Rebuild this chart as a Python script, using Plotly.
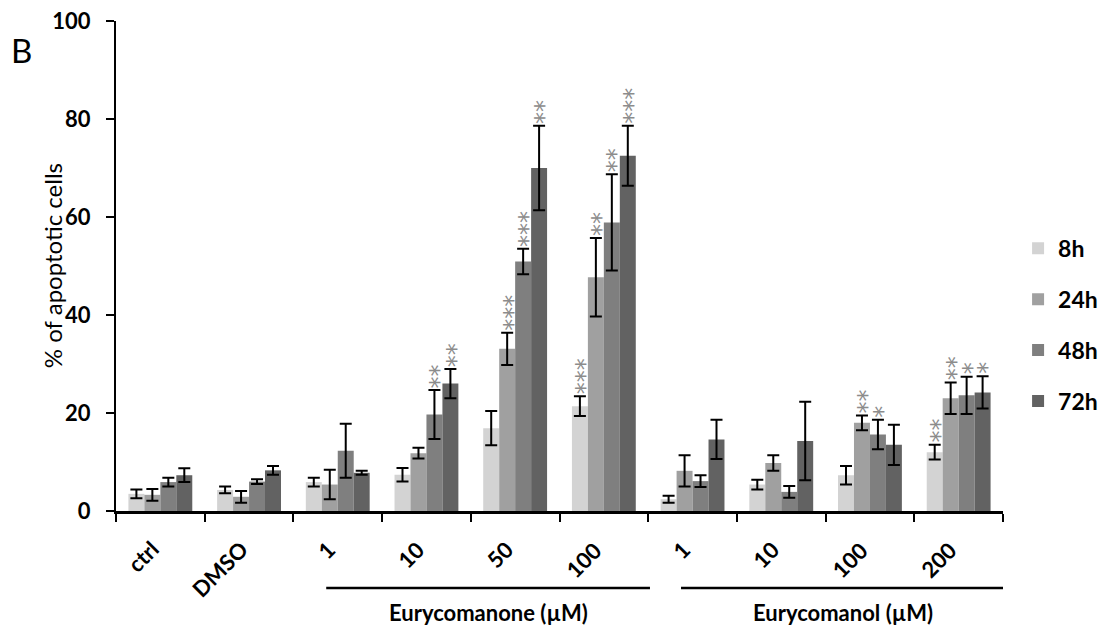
import plotly.graph_objects as go

categories = ["ctrl", "DMSO", "1", "10", "50", "100", "1", "10", "100", "200"]
series_names = ["8h", "24h", "48h", "72h"]

mean_8h = [3.5, 4.3, 5.9, 7.4, 16.9, 21.4, 2.4, 5.4, 7.3, 12.0]
err_8h = [0.9, 0.7, 0.9, 1.4, 3.5, 2.0, 0.7, 1.0, 1.9, 1.5]
mean_24h = [3.3, 2.9, 5.4, 11.8, 33.1, 47.7, 8.2, 9.8, 18.0, 23.0]
err_24h = [1.2, 1.2, 3.0, 1.1, 3.3, 8.0, 3.2, 1.6, 1.5, 3.2]
mean_48h = [5.9, 6.0, 12.3, 19.7, 50.9, 58.9, 6.1, 3.9, 15.6, 23.6]
err_48h = [0.9, 0.5, 5.5, 5.0, 2.6, 9.8, 1.2, 1.2, 3.0, 3.8]
mean_72h = [7.3, 8.3, 7.8, 26.0, 70.0, 72.5, 14.6, 14.3, 13.5, 24.2]
err_72h = [1.4, 0.9, 0.4, 3.0, 8.6, 6.1, 4.0, 8.0, 4.1, 3.3]

stars_8h = [0, 0, 0, 0, 0, 3, 0, 0, 0, 2]
stars_24h = [0, 0, 0, 0, 3, 2, 0, 0, 2, 2]
stars_48h = [0, 0, 0, 2, 3, 2, 0, 0, 1, 1]
stars_72h = [0, 0, 0, 2, 2, 3, 0, 0, 0, 1]

group_labels = ["Eurycomanone (µM)", "Eurycomanol (µM)"]
group_members = [[2, 3, 4, 5], [6, 7, 8, 9]]

colors = ["#d3d3d3", "#a0a0a0", "#7f7f7f", "#626262"]
means = [mean_8h, mean_24h, mean_48h, mean_72h]
errs = [err_8h, err_24h, err_48h, err_72h]
stars = [stars_8h, stars_24h, stars_48h, stars_72h]

BAR_W = 0.18
FONT = "Lato"

fig = go.Figure()
annotations = []
for k, name in enumerate(series_names):
    off = (k - 1.5) * BAR_W
    xs = [i + off for i in range(len(categories))]
    fig.add_trace(go.Bar(
        x=xs, y=means[k], width=BAR_W, name=name,
        marker=dict(color=colors[k], line=dict(width=0)),
        error_y=dict(type="data", array=errs[k], color="black", thickness=2, width=6),
        legendgroup=name,
    ))
    for i, n in enumerate(stars[k]):
        if n:
            # a vertical stack of asterisks, written as rotated text
            annotations.append(dict(
                x=xs[i], y=means[k][i] + errs[k][i], xref="x", yref="y",
                text="*" * n, textangle=-90, showarrow=False,
                yanchor="bottom", xanchor="center", yshift=1, xshift=5,
                borderpad=0,
                font=dict(family="DejaVu Sans", size=24, color="#8c8c8c"),
            ))

# rotated category labels
for i, lab in enumerate(categories):
    annotations.append(dict(
        x=i + 0.07, y=0, xref="x", yref="y", text=lab, showarrow=False,
        textangle=-45, xanchor="right", yanchor="top", yshift=-22,
        font=dict(family=FONT, size=22, color="black", weight="bold"),
    ))

# group underline labels
shapes = []
for label, members in zip(group_labels, group_members):
    x0 = members[0] - 0.13
    x1 = members[-1] + 0.52
    shapes.append(dict(type="line", xref="x", yref="paper", x0=x0, x1=x1,
                       y0=-0.157, y1=-0.157, line=dict(color="black", width=2.5)))
    annotations.append(dict(x=(x0 + x1) / 2, y=-0.238, xref="x", yref="paper",
                            text=label, showarrow=False, yanchor="bottom",
                            font=dict(family=FONT, size=22, color="black", weight="bold")))

annotations.append(dict(x=-0.072, y=0.5, xref="paper", yref="paper",
                        text="% of apoptotic cells", textangle=-90, showarrow=False,
                        xanchor="center", yanchor="middle",
                        font=dict(family=FONT, size=24, color="black")))
annotations.append(dict(x=-0.107, y=0.941, xref="paper", yref="paper",
                        text="B", showarrow=False, xanchor="center", yanchor="middle",
                        font=dict(family=FONT, size=33, color="black")))

fig.update_layout(
    width=1103, height=628,
    margin=dict(l=116, r=100, t=21, b=117, autoexpand=False),
    paper_bgcolor="white", plot_bgcolor="white",
    barmode="overlay",
    showlegend=True,
    legend=dict(x=1.017, y=0.58, xanchor="left", yanchor="top",
                font=dict(family=FONT, size=23, color="black", weight="bold"),
                tracegroupgap=18, bgcolor="rgba(0,0,0,0)"),
    shapes=shapes,
    annotations=annotations,
)
fig.update_xaxes(
    range=[-0.5, len(categories) - 0.5],
    tickmode="array", tickvals=[i - 0.5 for i in range(len(categories) + 1)],
    showticklabels=False,
    ticks="outside", ticklen=8, tickwidth=2, tickcolor="black",
    showline=True, linecolor="black", linewidth=2.5, showgrid=False, zeroline=False,
)
fig.update_yaxes(
    range=[0, 100], tickmode="array", tickvals=[0, 20, 40, 60, 80, 100],
    ticks="outside", ticklen=8, tickwidth=2, tickcolor="black", ticklabelstandoff=11,
    tickfont=dict(family=FONT, size=22, color="black", weight="bold"),
    showline=True, linecolor="black", linewidth=2, showgrid=False, zeroline=False,
)

fig.write_html("out.html")
